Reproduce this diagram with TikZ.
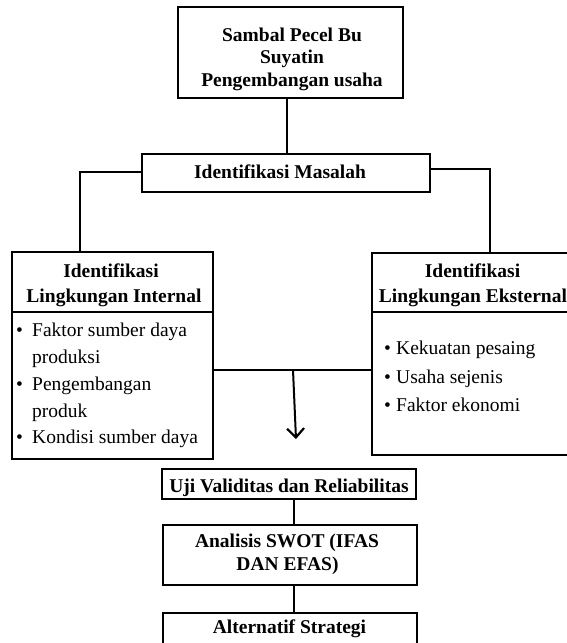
\documentclass[tikz,border=0pt]{standalone}
\usepackage{fontspec}
\setmainfont{Liberation Serif}
\usetikzlibrary{arrows.meta}
\tikzset{
  bx/.style={draw, line width=2pt, inner sep=0pt, outer sep=0pt},
  conn/.style={line width=2pt},
  bt/.style={font=\fontsize{19.5}{22.5}\selectfont\bfseries, inner sep=0pt, anchor=base},
  rt/.style={font=\fontsize{19.5}{22.5}\selectfont, inner sep=0pt, anchor=base west},
}
\begin{document}
\begin{tikzpicture}[x=1pt,y=-1pt]
\useasboundingbox (0,0) rectangle (566,643);
% boxes
\node[bx, minimum width=225pt, minimum height=91pt] (top) at (290.5,52.5) {};
\node[bx, minimum width=288pt, minimum height=38pt] (masalah) at (286,173) {};
\node[bx, minimum width=201pt, minimum height=207pt] (left) at (112.5,355.5) {};
\node[bx, minimum width=202pt, minimum height=202pt] (right) at (473,354) {};
\node[bx, minimum width=254pt, minimum height=30pt] (uji) at (289,484) {};
\node[bx, minimum width=254pt, minimum height=60pt] (analisis) at (290,555) {};
\node[bx, minimum width=254pt, minimum height=46pt] (alt) at (290,636) {};
% dividers
\draw[conn] (left.west |- 0,312) -- (left.east |- 0,312);
\draw[conn] (right.west |- 0,312) -- (right.east |- 0,312);
% texts
\node[bt] (t1) at (292,41) {Sambal Pecel Bu};
\node[bt] (t2) at (292,63) {Suyatin};
\node[bt] (t3) at (292,86) {Pengembangan usaha};
\node[bt] (tm) at (280,178) {Identifikasi Masalah};
\node[bt] (tl1) at (111,277) {Identifikasi};
\node[bt] (tl2) at (114,302) {Lingkungan Internal};
\node[bt] (tr1) at (472.5,277) {Identifikasi};
\node[bt] (tr2) at (473,302) {Lingkungan Eksternal};
\node[rt] (l1) at (16,336) {\makebox[16pt][l]{•}Faktor sumber daya};
\node[rt] (l2) at (32,363) {produksi};
\node[rt] (l3) at (16,390) {\makebox[16pt][l]{•}Pengembangan};
\node[rt] (l4) at (32,417) {produk};
\node[rt] (l5) at (16,443) {\makebox[16pt][l]{•}Kondisi sumber daya};
\node[rt] (r1) at (384,354) {\makebox[12pt][l]{•}Kekuatan pesaing};
\node[rt] (r2) at (384,383) {\makebox[12pt][l]{•}Usaha sejenis};
\node[rt] (r3) at (384,411) {\makebox[12pt][l]{•}Faktor ekonomi};
\node[bt] (tu) at (289,492) {Uji Validitas dan Reliabilitas};
\node[bt] (ta1) at (287,547) {Analisis SWOT (IFAS};
\node[bt] (ta2) at (287.5,570) {DAN EFAS)};
\node[bt] (talt) at (289.5,633) {Alternatif Strategi};
% connectors
\draw[conn] ([xshift=-3.5pt]top.south) -- ([xshift=-3.5pt]top.south |- masalah.north);
\draw[conn] ([yshift=1pt]masalah.west) -| ([xshift=-32.5pt]left.north);
\draw[conn] ([yshift=4pt]masalah.east) -| ([xshift=17pt]right.north);
\draw[conn] ([yshift=-14.5pt]left.east) -- ([yshift=-14.5pt]left.east -| right.west);
\coordinate (junc) at (293,370);
\coordinate (tip) at (296,439);
\draw[conn, -{Straight Barb[length=9pt,width=17pt,line width=2.2pt]}] (junc) -- (tip);
\draw[conn] ([xshift=5pt]uji.south) -- ([xshift=5pt]uji.south |- analisis.north);
\draw[conn] ([xshift=4pt]analisis.south) -- ([xshift=4pt]analisis.south |- alt.north);
\end{tikzpicture}
\end{document}
